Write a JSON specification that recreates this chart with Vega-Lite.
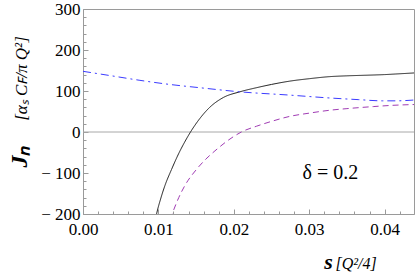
{
  "$schema": "https://vega.github.io/schema/vega-lite/v6.json",
  "width": 331,
  "height": 205,
  "autosize": {"type": "none"},
  "padding": {"left": 83, "top": 9, "right": 1, "bottom": 63},
  "background": "white",
  "config": {
    "view": {"stroke": "#9a9a9a", "strokeWidth": 1},
    "axis": {
      "grid": false,
      "labelFont": "Liberation Serif",
      "labelFontSize": 17,
      "labelColor": "#000000",
      "domainColor": "#9a9a9a",
      "tickColor": "#9a9a9a",
      "titleFont": "Liberation Serif",
      "titleColor": "#000000"
    }
  },
  "datasets": {
    "curves": [
      {"curve": "a", "s": 0.0090, "J": -270},
      {"curve": "a", "s": 0.0094, "J": -235},
      {"curve": "a", "s": 0.00976, "J": -200},
      {"curve": "a", "s": 0.0103, "J": -163},
      {"curve": "a", "s": 0.01086, "J": -131},
      {"curve": "a", "s": 0.01175, "J": -91},
      {"curve": "a", "s": 0.01276, "J": -50},
      {"curve": "a", "s": 0.0135, "J": -24},
      {"curve": "a", "s": 0.01426, "J": 0},
      {"curve": "a", "s": 0.0155, "J": 33},
      {"curve": "a", "s": 0.0168, "J": 60},
      {"curve": "a", "s": 0.0186, "J": 84},
      {"curve": "a", "s": 0.0208, "J": 98},
      {"curve": "a", "s": 0.023, "J": 108},
      {"curve": "a", "s": 0.025, "J": 116},
      {"curve": "a", "s": 0.0274, "J": 124},
      {"curve": "a", "s": 0.030, "J": 130},
      {"curve": "a", "s": 0.0327, "J": 135},
      {"curve": "a", "s": 0.035, "J": 137},
      {"curve": "a", "s": 0.0385, "J": 139},
      {"curve": "a", "s": 0.040, "J": 140},
      {"curve": "a", "s": 0.0415, "J": 141.5},
      {"curve": "a", "s": 0.0439, "J": 144},
      {"curve": "b", "s": 0.0108, "J": -260},
      {"curve": "b", "s": 0.01183, "J": -200},
      {"curve": "b", "s": 0.0127, "J": -160},
      {"curve": "b", "s": 0.0135, "J": -131},
      {"curve": "b", "s": 0.01506, "J": -91},
      {"curve": "b", "s": 0.0163, "J": -66},
      {"curve": "b", "s": 0.0175, "J": -46},
      {"curve": "b", "s": 0.0199, "J": -12},
      {"curve": "b", "s": 0.0210, "J": 0},
      {"curve": "b", "s": 0.0230, "J": 14},
      {"curve": "b", "s": 0.0252, "J": 27},
      {"curve": "b", "s": 0.0274, "J": 38},
      {"curve": "b", "s": 0.030, "J": 46},
      {"curve": "b", "s": 0.0327, "J": 53},
      {"curve": "b", "s": 0.035, "J": 57},
      {"curve": "b", "s": 0.0385, "J": 62},
      {"curve": "b", "s": 0.041, "J": 65},
      {"curve": "b", "s": 0.0439, "J": 67},
      {"curve": "c", "s": 0.0, "J": 148},
      {"curve": "c", "s": 0.0038, "J": 137},
      {"curve": "c", "s": 0.00755, "J": 126},
      {"curve": "c", "s": 0.0115, "J": 116},
      {"curve": "c", "s": 0.0155, "J": 108},
      {"curve": "c", "s": 0.0208, "J": 98},
      {"curve": "c", "s": 0.0274, "J": 90},
      {"curve": "c", "s": 0.0327, "J": 83},
      {"curve": "c", "s": 0.0365, "J": 79},
      {"curve": "c", "s": 0.0397, "J": 76},
      {"curve": "c", "s": 0.0415, "J": 76},
      {"curve": "c", "s": 0.0439, "J": 78}
    ],
    "zero": [{"J": 0}],
    "note": [{"s": 0.0328, "J": -115, "text": "δ = 0.2"}]
  },
  "layer": [
    {
      "data": {"name": "zero"},
      "mark": {"type": "rule", "color": "#a8a8a8", "strokeWidth": 1},
      "encoding": {
        "y": {"field": "J", "type": "quantitative", "scale": {"domain": [-200, 300], "nice": false}, "axis": null}
      }
    },
    {
      "data": {"name": "curves"},
      "mark": {"type": "line", "clip": true, "strokeWidth": 1, "interpolate": "monotone"},
      "encoding": {
        "x": {
          "field": "s", "type": "quantitative",
          "scale": {"domain": [0, 0.0439], "nice": false, "zero": false},
          "axis": {
            "orient": "bottom",
            "values": [0, 0.002, 0.004, 0.006, 0.008, 0.01, 0.012, 0.014, 0.016, 0.018, 0.02, 0.022, 0.024, 0.026, 0.028, 0.03, 0.032, 0.034, 0.036, 0.038, 0.04, 0.042],
            "labelExpr": "abs(datum.value*100 - round(datum.value*100)) < 1e-6 ? format(datum.value, '.2f') : ''",
            "labelOverlap": false,
            "labelFlush": false,
            "tickSize": {"condition": {"test": "abs(datum.value*100 - round(datum.value*100)) < 1e-6", "value": -5}, "value": -3},
            "labelPadding": 12,
            "title": "s",
            "titleFontSize": 22,
            "titleFontStyle": "italic",
            "titleFontWeight": "bold",
            "titleX": 245,
            "titleY": 54,
            "titleAlign": "center",
            "titleBaseline": "alphabetic"
          }
        },
        "y": {
          "field": "J", "type": "quantitative",
          "scale": {"domain": [-200, 300], "nice": false},
          "axis": {
            "orient": "left",
            "values": [-200, -180, -160, -140, -120, -100, -80, -60, -40, -20, 0, 20, 40, 60, 80, 100, 120, 140, 160, 180, 200, 220, 240, 260, 280, 300],
            "labelExpr": "datum.value % 100 == 0 ? (datum.value < 0 ? '− ' + abs(datum.value) : '' + datum.value) : ''",
            "labelOverlap": false,
            "tickSize": {"condition": {"test": "datum.value % 100 == 0", "value": -5}, "value": -3},
            "labelPadding": 8,
            "title": "Jₙ",
            "titleFontSize": 24,
            "titleFontStyle": "italic",
            "titleFontWeight": "bold",
            "titleAngle": -90,
            "titleX": -64,
            "titleY": 147,
            "titleAlign": "center",
            "titleBaseline": "middle"
          }
        },
        "color": {
          "field": "curve", "type": "nominal",
          "scale": {"domain": ["a", "b", "c"], "range": ["#1a1a1a", "#a03cb4", "#3b3bff"]},
          "legend": null
        },
        "strokeDash": {
          "field": "curve", "type": "nominal",
          "scale": {"domain": ["a", "b", "c"], "range": [[1, 0], [6, 4], [8, 4, 2, 4]]},
          "legend": null
        }
      }
    },
    {
      "data": {"name": "note"},
      "mark": {"type": "text", "font": "Liberation Serif", "fontSize": 20, "align": "center", "baseline": "alphabetic", "color": "#000000"},
      "encoding": {
        "x": {
          "field": "s", "type": "quantitative",
          "axis": {
            "orient": "bottom", "labels": false, "ticks": false, "domain": false,
            "title": "[Q²/4]",
            "titleFontSize": 16, "titleFontStyle": "italic", "titleFontWeight": "normal",
            "titleX": 252, "titleY": 54, "titleAlign": "left", "titleBaseline": "alphabetic"
          }
        },
        "y": {
          "field": "J", "type": "quantitative",
          "axis": {
            "orient": "left", "labels": false, "ticks": false, "domain": false,
            "title": "[αₛ Cꜰ/π Q²]",
            "titleFontSize": 17, "titleFontStyle": "italic", "titleFontWeight": "normal",
            "titleAngle": -90,
            "titleX": -62, "titleY": 69, "titleAlign": "center", "titleBaseline": "middle"
          }
        },
        "text": {"field": "text"}
      }
    }
  ],
  "resolve": {"axis": {"x": "independent", "y": "independent"}}
}
